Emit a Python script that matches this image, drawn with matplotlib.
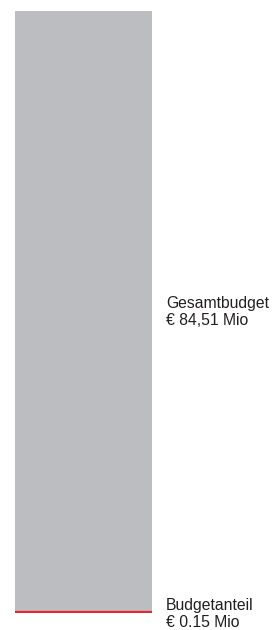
import matplotlib.pyplot as plt

plt.rcParams['font.family'] = ['Liberation Sans', 'DejaVu Sans']

total = 84.51
share = 0.15
labels = ["Gesamtbudget\n€ 84,51 Mio", "Budgetanteil\n€ 0.15 Mio"]

fig = plt.figure(figsize=(2.73, 6.3), dpi=100)
ax = fig.add_axes([15 / 273, 17 / 630, 137 / 273, 602 / 630])

ax.bar(0, total, width=1, color="#bcbdc1")
ax.bar(0, share, width=1, color="#e8262d", edgecolor="#e8262d", linewidth=1.6)

ax.set_xlim(-0.5, 0.5)
ax.set_ylim(0, total)
ax.axis("off")

# labels sit just right of the bar
ax.annotate(labels[0], (0.5, total / 2), xytext=(10, 0), textcoords="offset points",
            ha="left", va="center", fontsize=11.3, color="#231f20",
            linespacing=1.1, annotation_clip=False)
ax.annotate(labels[1], (0.5, share), xytext=(10, -1.5), textcoords="offset points",
            ha="left", va="center", fontsize=11.3, color="#231f20",
            linespacing=1.1, annotation_clip=False)

fig.savefig("out.png", dpi=100)
